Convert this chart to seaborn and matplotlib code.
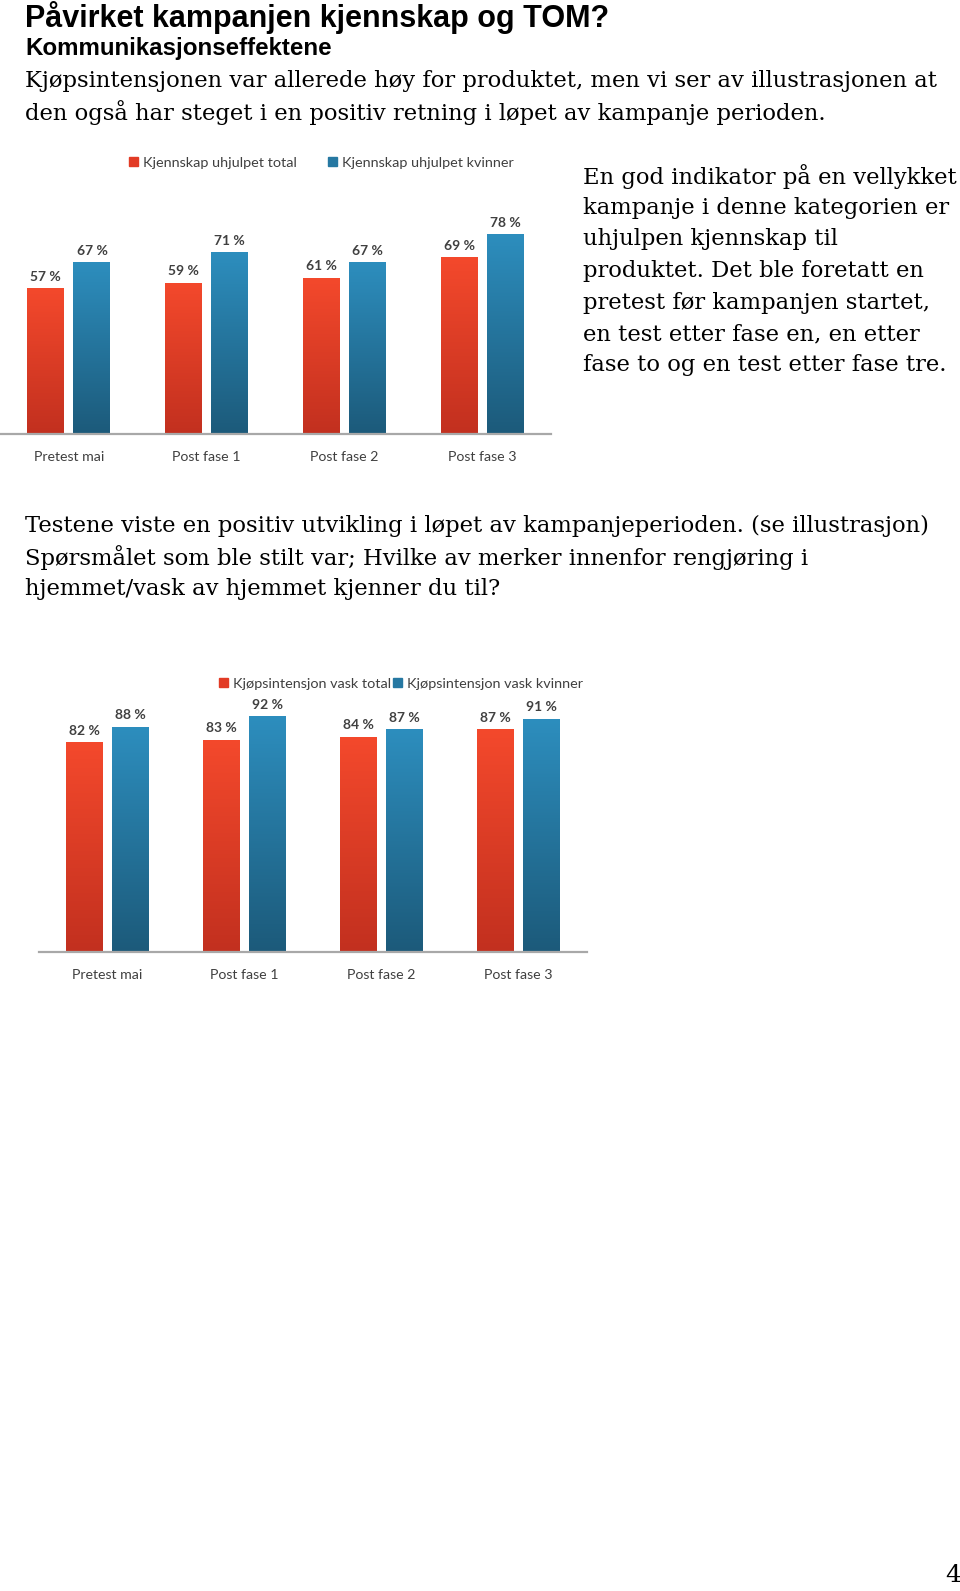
import numpy as np
import pandas as pd
import matplotlib
matplotlib.use("Agg")
import matplotlib.pyplot as plt
import seaborn as sns
from matplotlib.patches import Patch
from matplotlib.colors import LinearSegmentedColormap

# data
phases = ["Pretest mai", "Post fase 1", "Post fase 2", "Post fase 3"]
kjennskap_total = [57, 59, 61, 69]
kjennskap_kvinner = [67, 71, 67, 78]
kjop_total = [82, 83, 84, 87]
kjop_kvinner = [88, 92, 87, 91]
series_1 = ["Kjennskap uhjulpet total", "Kjennskap uhjulpet kvinner"]
series_2 = ["Kjøpsintensjon vask total", "Kjøpsintensjon vask kvinner"]

title = "Påvirket kampanjen kjennskap og TOM?"
subtitle = "Kommunikasjonseffektene"
intro = ["Kjøpsintensjonen var allerede høy for produktet, men vi ser av illustrasjonen at",
         "den også har steget i en positiv retning i løpet av kampanje perioden."]
side_text = ["En god indikator på en vellykket",
             "kampanje i denne kategorien er",
             "uhjulpen kjennskap til",
             "produktet. Det ble foretatt en",
             "pretest før kampanjen startet,",
             "en test etter fase en, en etter",
             "fase to og en test etter fase tre."]
bottom_text = ["Testene viste en positiv utvikling i løpet av kampanjeperioden. (se illustrasjon)",
               "Spørsmålet som ble stilt var; Hvilke av merker innenfor rengjøring i",
               "hjemmet/vask av hjemmet kjenner du til?"]

RED, BLUE = "#E23B25", "#2678A2"
cmaps = [LinearSegmentedColormap.from_list("red", ["#C2301F", "#F4492C"]),
         LinearSegmentedColormap.from_list("blue", ["#1C5A7A", "#2D8EBE"])]
TXT = "#404040"

sns.set_theme(style="white")
plt.rcParams["font.family"] = ["Lato", "DejaVu Sans"]

W, H = 960, 1591
fig = plt.figure(figsize=(W / 100, H / 100), dpi=100)


def fy(y):
    return 1 - y / H


def draw_chart(left, right, base, total, kvinner, names, leg_x, leg_y, colspace):
    px_per_pct = 2.56
    ax = fig.add_axes([left / W, fy(base), (right - left) / W, 100 * px_per_pct / H])
    df = pd.DataFrame({"fase": phases * 2,
                       "verdi": total + kvinner,
                       "serie": [names[0]] * 4 + [names[1]] * 4})
    sns.barplot(data=df, x="fase", y="verdi", hue="serie", palette=[RED, BLUE],
                width=0.67, gap=0.2, saturation=1, legend=False, ax=ax)

    # vertical gradient on every bar
    grad = np.linspace(0, 1, 256).reshape(-1, 1)
    for cont, cmap, vals in zip(ax.containers, cmaps, [total, kvinner]):
        for bar in cont:
            x0, w, h = bar.get_x(), bar.get_width(), bar.get_height()
            img = ax.imshow(grad, cmap=cmap, origin="lower", aspect="auto",
                            extent=(x0, x0 + w, 0, h), zorder=bar.get_zorder())
            img.set_clip_path(bar)
            bar.set_facecolor("none")
            bar.set_edgecolor("none")
        ax.bar_label(cont, labels=[f"{v} %" for v in vals], padding=4,
                     fontsize=10, fontweight="bold", color=TXT)
    ax.set_xlim(-0.5, 3.5)
    ax.set_ylim(0, 100)

    sns.despine(ax=ax, left=True)
    ax.spines["bottom"].set_color("#A8A8A8")
    ax.spines["bottom"].set_linewidth(1.6)
    ax.set_yticks([])
    ax.set_xlabel("")
    ax.set_ylabel("")
    ax.tick_params(axis="x", length=0, pad=12, labelsize=10.2, labelcolor=TXT)
    ax.patch.set_alpha(0)

    handles = [Patch(color=RED), Patch(color=BLUE)]
    fig.legend(handles, names, loc="center left", bbox_to_anchor=(leg_x / W, fy(leg_y)),
               ncol=2, frameon=False, fontsize=10.4, handlelength=0.6, handleheight=0.6,
               handletextpad=0.35, columnspacing=colspace, borderpad=0, borderaxespad=0,
               labelcolor=TXT)
    return ax


draw_chart(0, 551, 434, kjennskap_total, kjennskap_kvinner, series_1, 129, 163, 2.2)
draw_chart(38.6, 586.6, 952, kjop_total, kjop_kvinner, series_2, 219, 684, 0.15)

# page text
fig.text(25 / W, fy(17), title, fontsize=22, fontweight="bold", color="black",
         family="Liberation Sans", va="center")
fig.text(25 / W, fy(49), subtitle, fontsize=17.4, fontweight="bold", color="black",
         family="Liberation Sans", va="center")
for i, line in enumerate(intro):
    fig.text(25 / W, fy(81 + 31.5 * i), line, fontsize=16.3, color="black",
             family="DejaVu Serif", va="center")
for i, line in enumerate(side_text):
    fig.text(583 / W, fy(176.5 + 31.5 * i), line, fontsize=16.3, color="black",
             family="DejaVu Serif", va="center")
for i, line in enumerate(bottom_text):
    fig.text(25 / W, fy(526 + 31.3 * i), line, fontsize=16.3, color="black",
             family="DejaVu Serif", va="center")
fig.text(945 / W, fy(1576), "4", fontsize=18, color="black", family="DejaVu Serif", va="center")

fig.savefig("out.png", dpi=100)
